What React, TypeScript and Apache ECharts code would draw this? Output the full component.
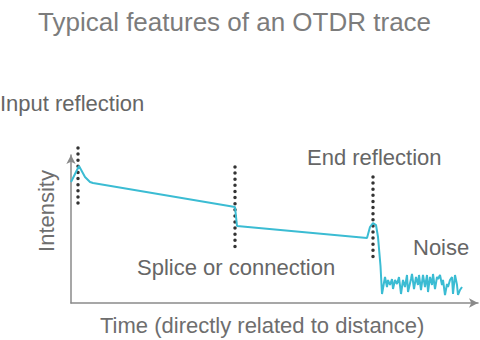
import React, { useEffect, useRef } from "react";
import * as echarts from "echarts";

// Trace: distance (arbitrary units) vs intensity (arbitrary units)
const traceX = [0, 8, 14, 19, 22, 164, 166, 296, 299, 302, 305, 307, 309.5, 311,
  314, 316, 317, 319, 321, 322, 324, 326, 328, 330, 332, 334, 336, 337, 340, 341, 343, 345, 347, 348,
  350, 352, 354, 356, 357, 359, 361, 362, 364, 366, 367, 369, 371, 372, 374, 376, 377, 379, 381, 382,
  384, 386, 387, 389, 391];
const traceY = [121, 137, 126, 121, 120, 96, 77, 65, 76, 80, 78, 66, 37, 9,
  26, 16, 23, 18, 24, 14, 23, 19, 26, 9, 23, 16, 28, 11, 24, 29, 14, 26, 18, 28,
  13, 28, 16, 28, 11, 26, 18, 29, 14, 26, 24, 28, 18, 23, 8, 19, 16, 23, 26, 9,
  28, 18, 8, 13, 16];

// Event markers (dotted vertical lines)
const markerX = [7, 164, 302];
const markerTop = [155, 136, 126];
const markerBottom = [97, 55, 45];

const labels = ["Input reflection", "Splice or connection", "End reflection", "Noise"];
const titleText = "Typical features of an OTDR trace";
const xName = "Time (directly related to distance)";
const yName = "Intensity";

export default function App() {
  const ref = useRef<HTMLDivElement>(null);
  useEffect(() => {
    const chart = echarts.init(ref.current!, null, { renderer: "svg" });
    const font = "'Liberation Sans', Arial, sans-serif";
    const axisLine = {
      show: true,
      symbol: ["none", "arrow"],
      symbolSize: [7, 9],
      lineStyle: { color: "#8a8a8a", width: 1.5 },
    };
    const markerSeries = markerX.map((x, i) => ({
      type: "line",
      data: [[x, markerTop[i]], [x, markerBottom[i]]],
      symbol: "none",
      clip: false,
      silent: true,
      lineStyle: { color: "#333", width: 3.5, type: [0.01, 6.1], cap: "round" },
      z: 3,
    }));
    const textStyle = (fs: number, color: string) => ({ fontSize: fs, fill: color, fontFamily: font });
    chart.setOption({
      animation: false,
      grid: { left: 71, right: 2, top: 155, bottom: 37 },
      xAxis: {
        type: "value", min: 0, max: 407,
        axisLine, axisTick: { show: false }, axisLabel: { show: false }, splitLine: { show: false },
      },
      yAxis: {
        type: "value", min: 0, max: 148,
        axisLine, axisTick: { show: false }, axisLabel: { show: false }, splitLine: { show: false },
      },
      series: [
        {
          type: "line",
          data: traceX.map((x, i) => [x, traceY[i]]),
          symbol: "none",
          clip: false,
          lineStyle: { color: "#3bbcd3", width: 2 },
          z: 4,
        },
        ...markerSeries,
      ],
      graphic: [
        { type: "text", left: 38, top: 9, style: { text: titleText, ...textStyle(26, "#7c7c7c") } },
        { type: "text", left: 0, top: 92, style: { text: labels[0], ...textStyle(22, "#666") } },
        { type: "text", left: 137, top: 256, style: { text: labels[1], ...textStyle(22, "#666") } },
        { type: "text", left: 307, top: 146, style: { text: labels[2], ...textStyle(22, "#666") } },
        { type: "text", left: 413, top: 236, style: { text: labels[3], ...textStyle(22, "#666") } },
        { type: "text", left: 100, top: 314, style: { text: xName, ...textStyle(22, "#6e6e6e") } },
        {
          type: "text", x: 46, y: 211, rotation: Math.PI / 2,
          style: { text: yName, align: "center", verticalAlign: "middle", ...textStyle(22, "#6e6e6e") },
        },
      ],
    });
    return () => chart.dispose();
  }, []);
  return <div ref={ref} style={{ width: 480, height: 340, position: "absolute", left: 0, top: 0 }} />;
}
